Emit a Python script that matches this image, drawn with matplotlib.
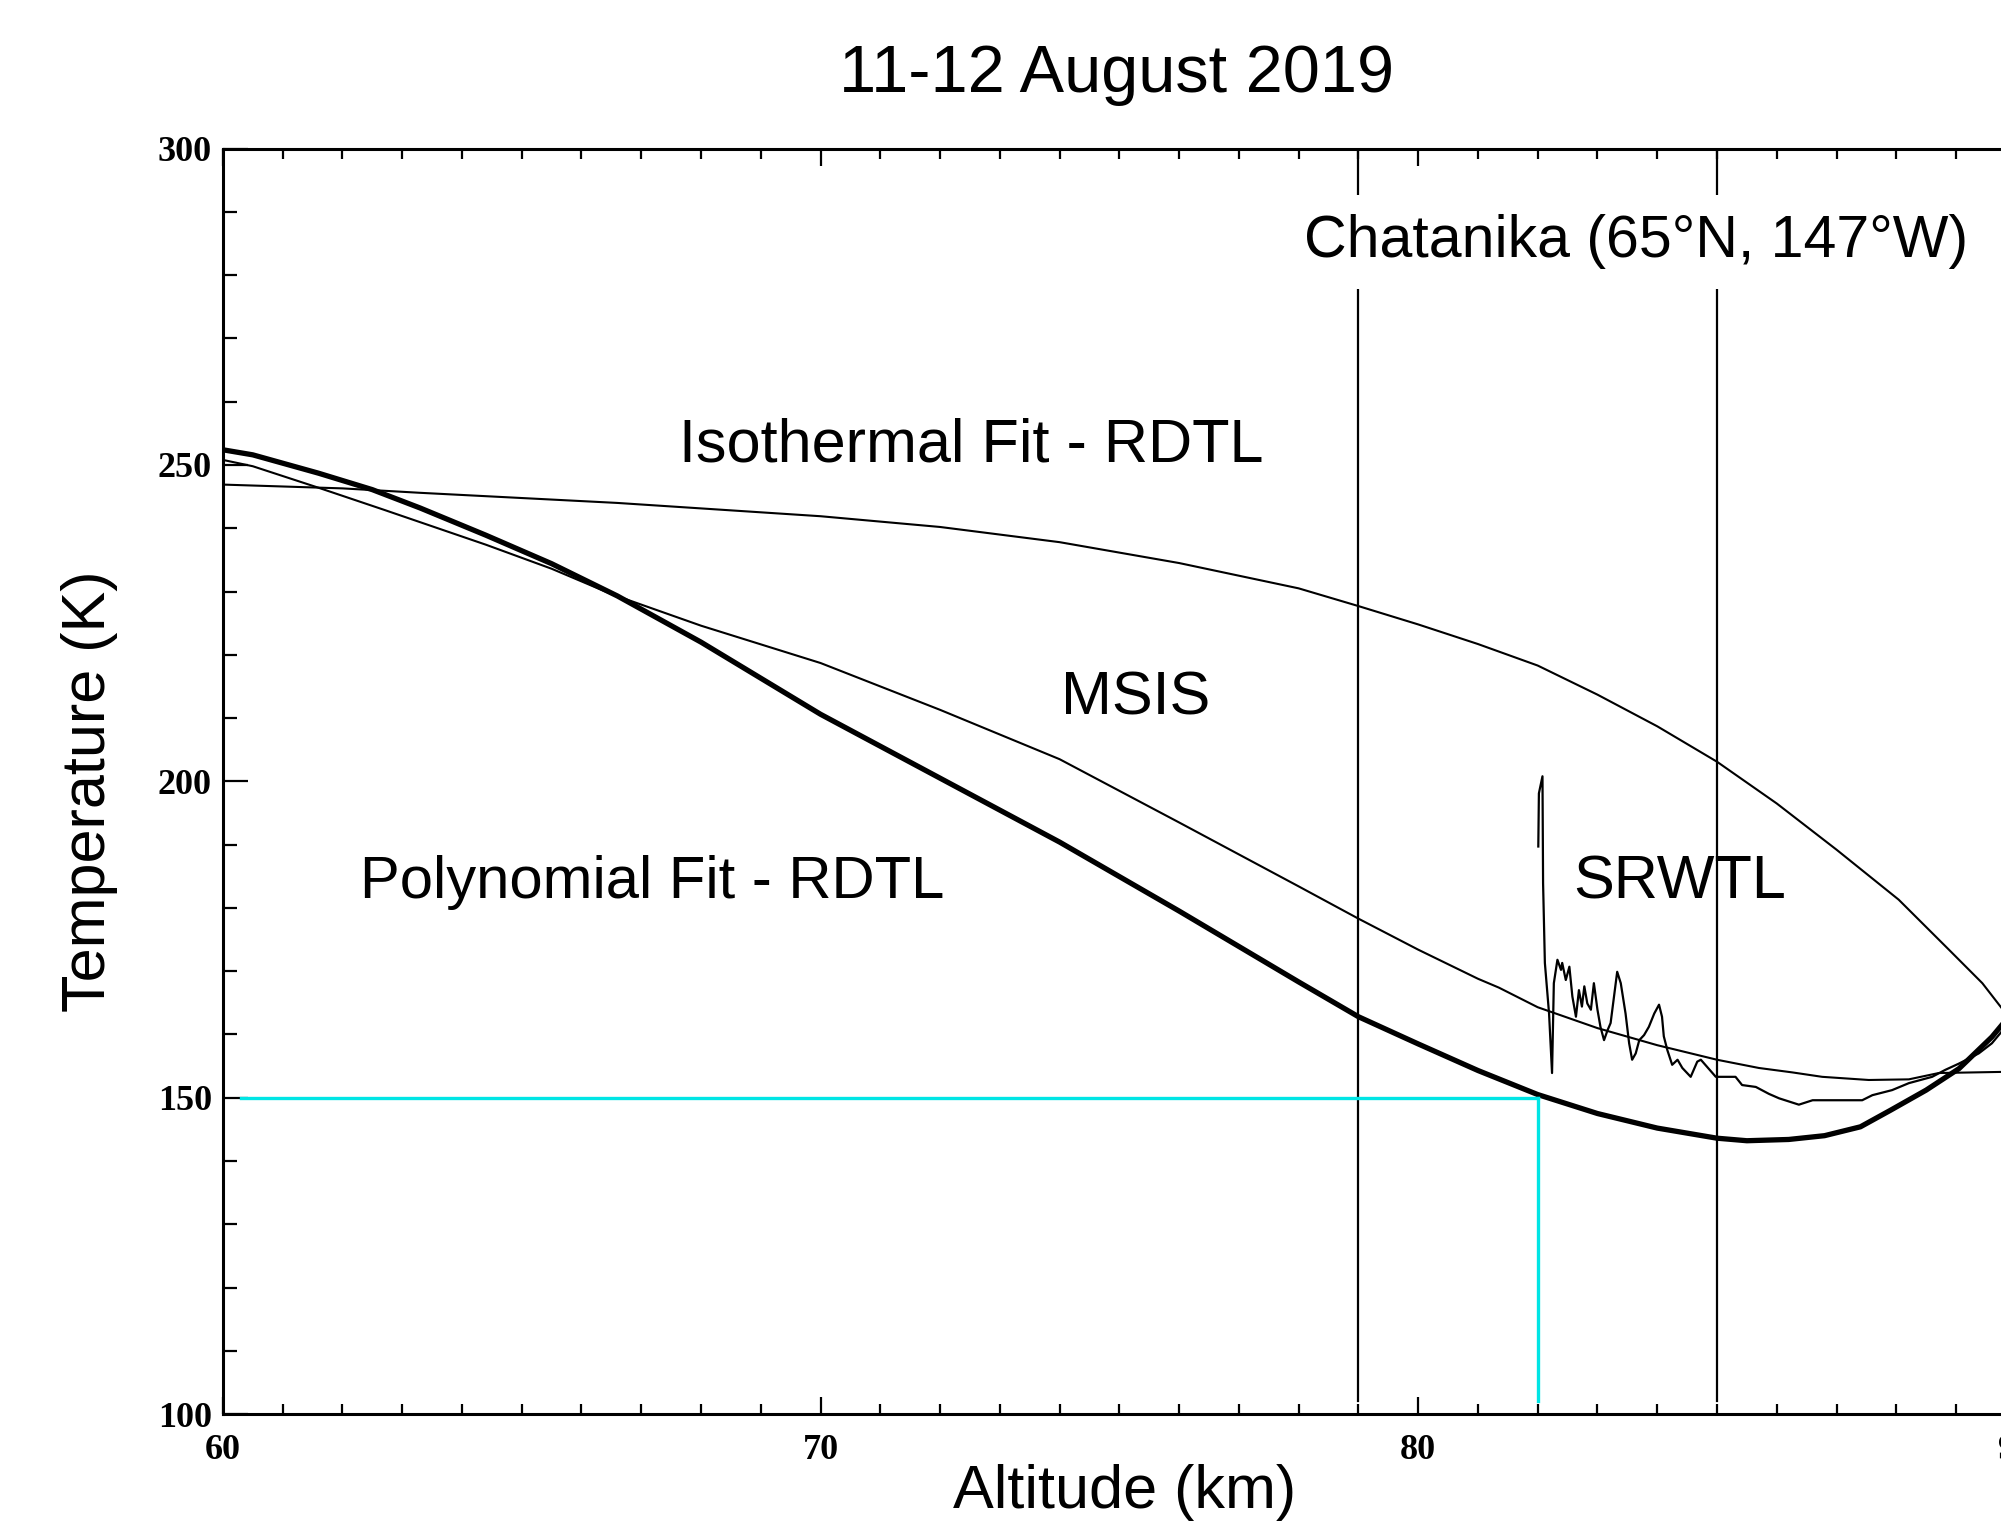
import matplotlib
matplotlib.use("Agg")
import matplotlib.pyplot as plt
from matplotlib.ticker import MultipleLocator

# Polynomial fit - RDTL (thick curve)
poly_alt = [60, 60.5, 61.6, 62.5, 63.3, 64.4, 65.5, 66.6, 68, 70, 72, 74, 76, 77, 78, 79, 80, 81,
            82, 83, 84, 85, 85.5, 86.2, 86.8, 87.4, 87.9, 88.5, 89.05, 89.6, 89.9]
poly_temp = [252.4, 251.6, 248.7, 246.1, 243.2, 238.9, 234.4, 229.3, 222.0, 210.6, 200.5, 190.4,
             179.5, 173.9, 168.3, 162.8, 158.5, 154.3, 150.5, 147.5, 145.2, 143.6, 143.2, 143.4,
             144.0, 145.4, 148.0, 151.2, 154.6, 159.6, 163.0]

# MSIS
msis_alt = [60, 60.5, 61.6, 62.7, 64.4, 65.5, 66.5, 68, 70, 72, 74, 76, 78, 79, 80, 81, 81.35,
            82, 83, 84, 85, 85.7, 86.26, 86.76, 87.54, 88.21, 88.71, 89.9]
msis_temp = [250.8, 249.8, 246.4, 242.9, 237.4, 233.6, 229.6, 224.6, 218.7, 211.3, 203.5, 193.5,
             183.4, 178.3, 173.4, 168.8, 167.4, 164.3, 161.0, 158.3, 156.0, 154.7, 154.0, 153.3,
             152.8, 152.9, 153.9, 154.1]

# Isothermal fit - RDTL
iso_alt = [60, 62, 63.3, 66.6, 70, 72, 74, 76, 78, 79, 80, 81, 82, 83, 84, 85, 86, 87,
           88.04, 88.88, 89.44, 89.9]
iso_temp = [246.9, 246.3, 245.6, 244.0, 241.9, 240.2, 237.8, 234.5, 230.5, 227.7, 224.8,
            221.7, 218.3, 213.7, 208.7, 203.1, 196.5, 189.2, 181.3, 173.4, 168.1, 162.5]

# SRWTL lidar profile
sr_alt = [82.01, 82.02, 82.08, 82.09, 82.12, 82.19, 82.24, 82.27, 82.33, 82.39, 82.41, 82.47,
          82.53, 82.58, 82.64, 82.69, 82.74, 82.78, 82.83, 82.89, 82.94, 83.00, 83.05, 83.11,
          83.17, 83.22, 83.33, 83.39, 83.47, 83.53, 83.58, 83.64, 83.70, 83.78, 83.86, 83.95,
          84.03, 84.08, 84.11, 84.17, 84.25, 84.34, 84.42, 84.56, 84.67, 84.73, 84.98, 85.31,
          85.42, 85.65, 85.87, 86.04, 86.37, 86.60, 87.43, 87.60, 87.93, 88.21, 88.60, 88.82,
          89.05, 89.38, 89.60, 89.9]
sr_temp = [189.7, 198.1, 200.8, 183.9, 171.3, 163.3, 153.9, 168.1, 171.8, 170.2, 171.3, 168.6,
           170.7, 166.0, 162.8, 167.0, 164.4, 167.6, 164.9, 163.9, 168.1, 163.9, 161.2, 159.1,
           160.7, 161.8, 169.9, 168.1, 163.3, 158.6, 156.0, 157.0, 159.1, 159.9, 161.2, 163.3,
           164.7, 162.8, 159.7, 157.5, 155.2, 156.0, 154.7, 153.3, 155.7, 156.0, 153.3, 153.3,
           152.0, 151.7, 150.6, 149.9, 148.9, 149.6, 149.6, 150.4, 151.2, 152.3, 153.3, 154.4,
           155.4, 157.0, 158.6, 162.0]

site_lines = [79, 85]
cutoff_alt = 82.0
cutoff_temp = 150

text_font = "Liberation Sans"

fig = plt.figure(figsize=(20.01, 15.21), dpi=100)
ax = fig.add_axes([0.1114, 0.0703, 0.896, 0.832])

ax.plot(iso_alt, iso_temp, color="black", lw=1.5)
ax.plot(msis_alt, msis_temp, color="black", lw=1.5)
ax.plot(sr_alt, sr_temp, color="black", lw=1.6)
ax.plot(poly_alt, poly_temp, color="black", lw=3.8)

for a in site_lines:
    ax.plot([a, a], [102, 300], color="black", lw=1.6)

ax.plot([60.3, cutoff_alt], [cutoff_temp, cutoff_temp], color="#00e5e5", lw=2.4)
ax.plot([cutoff_alt, cutoff_alt], [cutoff_temp, 102], color="#00e5e5", lw=2.4)

ax.set_xlim(60, 90)
ax.set_ylim(100, 300)
ax.xaxis.set_major_locator(MultipleLocator(10))
ax.xaxis.set_minor_locator(MultipleLocator(1))
ax.yaxis.set_major_locator(MultipleLocator(50))
ax.yaxis.set_minor_locator(MultipleLocator(10))
ax.tick_params(which="both", direction="in", top=True, right=False, width=1.6)
ax.tick_params(axis="y", which="major", length=18, pad=8)
ax.tick_params(axis="y", which="minor", length=10)
ax.tick_params(axis="x", which="major", length=12, pad=14)
ax.tick_params(axis="x", which="minor", length=7)
for lab in ax.get_xticklabels() + ax.get_yticklabels():
    lab.set_fontfamily("Liberation Serif")
    lab.set_fontweight("bold")
    lab.set_fontsize(26)
for s in ax.spines.values():
    s.set_linewidth(2.2)

ax.text(72.52, 253.0, "Isothermal Fit - RDTL", fontsize=44, family=text_font,
        ha="center", va="center")
ax.text(75.28, 213.0, "MSIS", fontsize=44, family=text_font, ha="center", va="center")
ax.text(67.18, 184.0, "Polynomial Fit - RDTL", fontsize=43, family=text_font,
        ha="center", va="center")
ax.text(84.38, 184.0, "SRWTL", fontsize=44, family=text_font, ha="center", va="center")
ax.text(83.65, 285.3, "Chatanika (65°N, 147°W)", fontsize=42.5, family=text_font,
        ha="center", va="center",
        bbox=dict(facecolor="white", edgecolor="none", pad=14))

fig.text(0.558, 0.951, "11-12 August 2019", fontsize=48, family=text_font,
         ha="center", va="center")
fig.text(0.562, 0.019, "Altitude (km)", fontsize=44, family=text_font,
         ha="center", va="center")
fig.text(0.0445, 0.48, "Temperature (K)", fontsize=44,
         family=["Liberation Sans Narrow", "Liberation Sans"],
         rotation=90, ha="center", va="center")

fig.savefig("out.png", dpi=100)
